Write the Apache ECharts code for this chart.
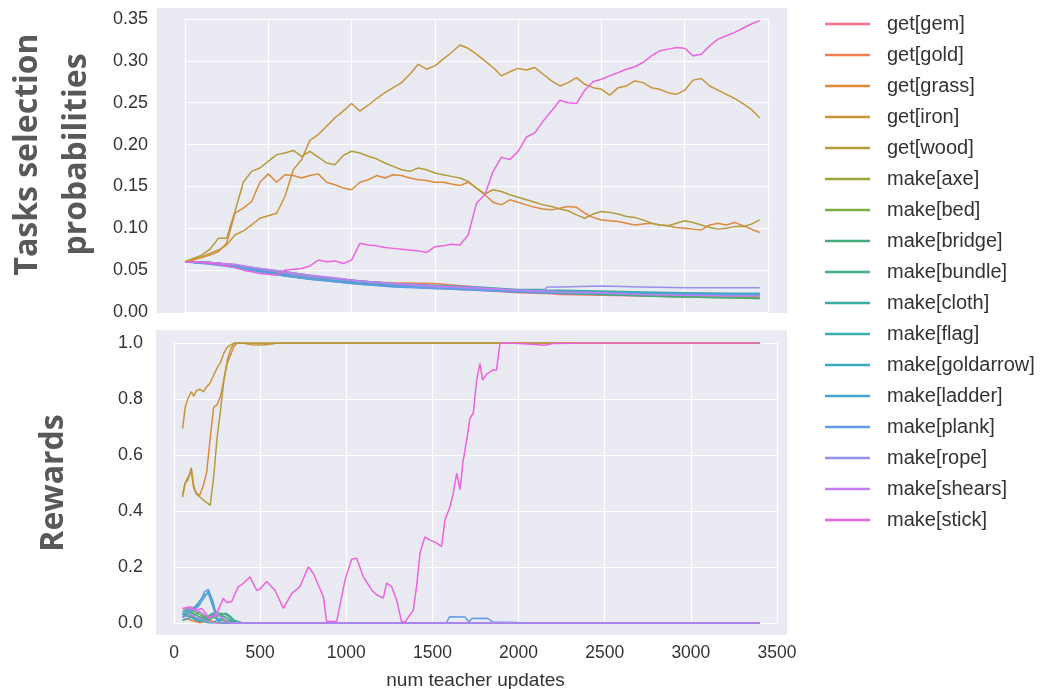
<!DOCTYPE html>
<html>
<head>
<meta charset="utf-8">
<script src="https://cdn.jsdelivr.net/npm/echarts@6/dist/echarts.min.js"></script>
<style>
  html, body { margin: 0; padding: 0; background: #fff; }
  #main { width: 1050px; height: 689px; }
</style>
</head>
<body>
<div id="main"></div>
<script>
// task names, legend order
var taskNames = ['get[gem]', 'get[gold]', 'get[grass]', 'get[iron]', 'get[wood]', 'make[axe]', 'make[bed]',
    'make[bridge]', 'make[bundle]', 'make[cloth]', 'make[flag]', 'make[goldarrow]', 'make[ladder]',
    'make[plank]', 'make[rope]', 'make[shears]', 'make[stick]'];
var taskColors = ['#f77189', '#f27d52', '#dd8a3c', '#c9953a', '#b39c3b', '#9ca53c', '#78ad40',
    '#44ae78', '#3fae92', '#3dada1', '#3fabab', '#3fa8bf', '#47a5d0',
    '#5f9de6', '#9790ee', '#c27ef2', '#ec62df'];

var xTicks = [0, 500, 1000, 1500, 2000, 2500, 3000, 3500];
var probTicks = [0, 0.05, 0.10, 0.15, 0.20, 0.25, 0.30, 0.35];
var rewardTicks = [0, 0.2, 0.4, 0.6, 0.8, 1.0];

// ---- top panel: task selection probabilities ----
var xTop = [0, 50, 100, 150, 200, 250, 300, 350, 400, 450, 500, 550, 600, 650, 700, 750, 800, 850, 900, 950,
    1000, 1050, 1100, 1150, 1200, 1250, 1300, 1350, 1400, 1450, 1500, 1550, 1600, 1650, 1700, 1750, 1800, 1850, 1900, 1950,
    2000, 2050, 2100, 2150, 2200, 2250, 2300, 2350, 2400, 2450, 2500, 2550, 2600, 2650, 2700, 2750, 2800, 2850, 2900, 2950,
    3000, 3050, 3100, 3150, 3200, 3250, 3300, 3350, 3400, 3450];

var probIron = [0.060, 0.063, 0.066, 0.070, 0.074, 0.080, 0.092, 0.097, 0.104, 0.112, 0.115, 0.118, 0.138, 0.170, 0.182, 0.205, 0.212, 0.222, 0.232, 0.240,
    0.249, 0.240, 0.247, 0.255, 0.262, 0.268, 0.274, 0.284, 0.296, 0.290, 0.294, 0.302, 0.310, 0.319, 0.315, 0.308, 0.300, 0.292, 0.282, 0.287,
    0.291, 0.289, 0.292, 0.284, 0.276, 0.270, 0.274, 0.280, 0.272, 0.268, 0.266, 0.259, 0.268, 0.270, 0.276, 0.274, 0.268, 0.266, 0.262, 0.260,
    0.265, 0.277, 0.279, 0.270, 0.265, 0.260, 0.255, 0.249, 0.242, 0.232];
var probWood = [0.060, 0.064, 0.068, 0.075, 0.088, 0.088, 0.120, 0.155, 0.168, 0.172, 0.180, 0.188, 0.190, 0.193, 0.186, 0.192, 0.185, 0.178, 0.176, 0.187,
    0.192, 0.190, 0.186, 0.183, 0.178, 0.174, 0.170, 0.168, 0.172, 0.170, 0.166, 0.164, 0.162, 0.160, 0.156, 0.148, 0.141, 0.146, 0.144, 0.140,
    0.137, 0.134, 0.131, 0.128, 0.126, 0.123, 0.121, 0.116, 0.112, 0.117, 0.120, 0.119, 0.117, 0.114, 0.113, 0.110, 0.106, 0.104, 0.103, 0.106,
    0.109, 0.107, 0.104, 0.101, 0.099, 0.100, 0.102, 0.102, 0.105, 0.110];
var probGrass = [0.060, 0.062, 0.065, 0.068, 0.072, 0.082, 0.118, 0.124, 0.132, 0.155, 0.165, 0.155, 0.164, 0.163, 0.160, 0.163, 0.165, 0.155, 0.152, 0.148,
    0.146, 0.155, 0.158, 0.163, 0.160, 0.164, 0.163, 0.160, 0.158, 0.157, 0.155, 0.155, 0.153, 0.151, 0.155, 0.148, 0.140, 0.131, 0.128, 0.134,
    0.131, 0.128, 0.125, 0.123, 0.122, 0.124, 0.126, 0.125, 0.118, 0.113, 0.110, 0.109, 0.108, 0.106, 0.104, 0.105, 0.106, 0.104, 0.103, 0.101,
    0.100, 0.099, 0.098, 0.104, 0.106, 0.104, 0.107, 0.103, 0.099, 0.095];
var probStick = [0.060, 0.060, 0.059, 0.058, 0.057, 0.055, 0.053, 0.050, 0.048, 0.046, 0.045, 0.044, 0.050, 0.051, 0.052, 0.055, 0.062, 0.060, 0.061, 0.058,
    0.062, 0.082, 0.080, 0.079, 0.077, 0.076, 0.075, 0.074, 0.073, 0.071, 0.078, 0.079, 0.081, 0.080, 0.092, 0.130, 0.140, 0.168, 0.185, 0.182,
    0.192, 0.209, 0.214, 0.228, 0.240, 0.253, 0.250, 0.249, 0.265, 0.275, 0.278, 0.282, 0.286, 0.290, 0.293, 0.298, 0.306, 0.312, 0.314, 0.316,
    0.315, 0.306, 0.308, 0.318, 0.326, 0.330, 0.334, 0.339, 0.344, 0.348];

// the low cluster, sampled coarser
var xTopLow = [0, 150, 300, 450, 600, 750, 900, 1050, 1250, 1500, 1750, 2000, 2150, 2175, 2250, 2500, 2750, 3000, 3250, 3450];
var probGem = [0.060, 0.059, 0.055, 0.049, 0.044, 0.040, 0.037, 0.034, 0.031, 0.028, 0.026, 0.023, 0.022, 0.022, 0.021, 0.020, 0.019, 0.018, 0.018, 0.017];
var probGold = [0.060, 0.059, 0.056, 0.050, 0.045, 0.041, 0.038, 0.036, 0.035, 0.034, 0.030, 0.026, 0.025, 0.025, 0.024, 0.022, 0.021, 0.020, 0.019, 0.018];
var probAxe = [0.060, 0.058, 0.055, 0.050, 0.046, 0.042, 0.039, 0.036, 0.033, 0.030, 0.028, 0.025, 0.024, 0.024, 0.023, 0.021, 0.020, 0.019, 0.018, 0.017];
var probBed = [0.060, 0.059, 0.056, 0.051, 0.047, 0.043, 0.040, 0.037, 0.034, 0.031, 0.028, 0.025, 0.024, 0.024, 0.023, 0.021, 0.020, 0.018, 0.017, 0.016];
var probBridge = [0.060, 0.058, 0.055, 0.051, 0.047, 0.043, 0.039, 0.036, 0.033, 0.030, 0.027, 0.024, 0.023, 0.023, 0.022, 0.021, 0.019, 0.018, 0.017, 0.016];
var probBundle = [0.060, 0.059, 0.056, 0.052, 0.048, 0.044, 0.040, 0.037, 0.034, 0.031, 0.029, 0.026, 0.025, 0.025, 0.024, 0.023, 0.022, 0.021, 0.021, 0.020];
var probCloth = [0.060, 0.058, 0.055, 0.050, 0.046, 0.042, 0.038, 0.035, 0.032, 0.030, 0.028, 0.026, 0.025, 0.025, 0.025, 0.024, 0.023, 0.022, 0.022, 0.021];
var probFlag = [0.060, 0.059, 0.056, 0.051, 0.047, 0.043, 0.040, 0.037, 0.034, 0.032, 0.030, 0.027, 0.027, 0.026, 0.026, 0.025, 0.024, 0.023, 0.022, 0.022];
var probGoldarrow = [0.060, 0.058, 0.054, 0.049, 0.044, 0.040, 0.037, 0.034, 0.031, 0.029, 0.027, 0.025, 0.024, 0.024, 0.024, 0.023, 0.023, 0.022, 0.022, 0.022];
var probLadder = [0.060, 0.058, 0.054, 0.048, 0.043, 0.039, 0.036, 0.033, 0.031, 0.029, 0.027, 0.025, 0.024, 0.024, 0.024, 0.023, 0.022, 0.022, 0.021, 0.021];
var probPlank = [0.060, 0.057, 0.053, 0.048, 0.043, 0.039, 0.036, 0.033, 0.030, 0.028, 0.026, 0.024, 0.023, 0.023, 0.023, 0.022, 0.021, 0.021, 0.020, 0.020];
var probRope = [0.060, 0.059, 0.056, 0.051, 0.046, 0.042, 0.039, 0.036, 0.033, 0.030, 0.028, 0.026, 0.025, 0.030, 0.030, 0.031, 0.030, 0.029, 0.029, 0.029];
var probShears = [0.060, 0.059, 0.057, 0.052, 0.048, 0.044, 0.041, 0.037, 0.034, 0.031, 0.029, 0.026, 0.025, 0.025, 0.024, 0.023, 0.021, 0.020, 0.019, 0.019];

// ---- bottom panel: rewards ----
var xRise = [50, 65, 80, 100, 115, 130, 150, 170, 190, 210, 230, 250, 270, 290, 310, 330, 350, 370, 400, 450,
    500, 550, 600, 700, 1000, 1500, 2000, 2500, 3000, 3400];
var rewIron = [0.695, 0.770, 0.800, 0.826, 0.810, 0.830, 0.835, 0.826, 0.844, 0.857, 0.885, 0.910, 0.930, 0.965, 0.985, 0.993, 1.0, 1.0, 1.0, 0.994,
    0.993, 0.995, 1.0, 1.0, 1.0, 1.0, 1.0, 1.0, 1.0, 1.0];
var rewGrass = [0.460, 0.500, 0.520, 0.540, 0.480, 0.464, 0.457, 0.490, 0.540, 0.660, 0.770, 0.780, 0.810, 0.870, 0.930, 0.960, 0.990, 1.0, 1.0, 1.0,
    1.0, 1.0, 1.0, 1.0, 1.0, 1.0, 1.0, 1.0, 1.0, 1.0];
var rewWood = [0.450, 0.500, 0.510, 0.555, 0.490, 0.460, 0.450, 0.440, 0.430, 0.420, 0.520, 0.660, 0.760, 0.870, 0.940, 0.980, 1.0, 1.0, 1.0, 1.0,
    1.0, 1.0, 1.0, 1.0, 1.0, 1.0, 1.0, 1.0, 1.0, 1.0];

var xStick = [50, 75, 95, 115, 130, 160, 185, 200, 210, 230, 250, 270, 286, 305, 334, 373, 392, 441, 480, 499,
    538, 586, 635, 683, 731, 780, 809, 867, 886, 944, 993, 1031, 1060, 1099, 1147, 1176, 1215, 1234, 1263, 1292,
    1321, 1340, 1389, 1408, 1428, 1437, 1457, 1486, 1524, 1553, 1573, 1602, 1621, 1641, 1660, 1679, 1699, 1718, 1737, 1757,
    1776, 1791, 1815, 1853, 1872, 1892, 1950, 2100, 2150, 2200, 2400, 3000, 3400];
var rewStick = [0.052, 0.055, 0.058, 0.050, 0.046, 0.052, 0.035, 0.017, 0.011, 0.025, 0.040, 0.065, 0.088, 0.073, 0.076, 0.130, 0.136, 0.165, 0.117, 0.121,
    0.148, 0.117, 0.052, 0.105, 0.130, 0.201, 0.177, 0.094, 0.005, 0.005, 0.154, 0.228, 0.231, 0.165, 0.118, 0.101, 0.089, 0.142, 0.130, 0.083,
    0.005, 0.003, 0.046, 0.130, 0.250, 0.270, 0.308, 0.296, 0.286, 0.273, 0.369, 0.415, 0.463, 0.535, 0.476, 0.582, 0.654, 0.731, 0.749, 0.868,
    0.927, 0.868, 0.890, 0.904, 0.904, 0.999, 1.0, 0.995, 0.992, 0.998, 1.0, 1.0, 1.0];

var xLow = [50, 75, 100, 125, 150, 175, 200, 225, 250, 275, 300, 325, 350, 400, 1580, 1600, 1690, 1710, 1730, 1820, 1850, 2000, 3400];
var rewGem = [0.020, 0.030, 0.025, 0.015, 0.010, 0.020, 0.015, 0.005, 0, 0, 0, 0, 0, 0, 0, 0, 0, 0, 0, 0, 0, 0, 0];
var rewGold = [0.010, 0.015, 0.010, 0.005, 0, 0.005, 0.010, 0.005, 0, 0, 0, 0, 0, 0, 0, 0, 0, 0, 0, 0, 0, 0, 0];
var rewAxe = [0.030, 0.040, 0.035, 0.030, 0.020, 0.025, 0.020, 0.030, 0.040, 0.030, 0.020, 0.010, 0, 0, 0, 0, 0, 0, 0, 0, 0, 0, 0];
var rewBed = [0.040, 0.050, 0.045, 0.040, 0.030, 0.020, 0.010, 0.020, 0.015, 0.010, 0.005, 0, 0, 0, 0, 0, 0, 0, 0, 0, 0, 0, 0];
var rewBridge = [0.035, 0.030, 0.025, 0.030, 0.040, 0.025, 0.010, 0.020, 0.030, 0.035, 0.030, 0.020, 0.005, 0, 0, 0, 0, 0, 0, 0, 0, 0, 0];
var rewBundle = [0.020, 0.035, 0.040, 0.030, 0.020, 0.015, 0.025, 0.035, 0.030, 0.025, 0.020, 0.010, 0, 0, 0, 0, 0, 0, 0, 0, 0, 0, 0];
var rewCloth = [0.030, 0.025, 0.020, 0.010, 0.005, 0.010, 0.020, 0.030, 0.025, 0.030, 0.035, 0.025, 0.010, 0, 0, 0, 0, 0, 0, 0, 0, 0, 0];
var rewFlag = [0.010, 0.015, 0.020, 0.015, 0.010, 0.005, 0, 0, 0.010, 0.015, 0.010, 0.005, 0, 0, 0, 0, 0, 0, 0, 0, 0, 0, 0];
var rewGoldarrow = [0.040, 0.045, 0.050, 0.060, 0.080, 0.100, 0.105, 0.060, 0.010, 0, 0, 0, 0, 0, 0, 0, 0, 0, 0, 0, 0, 0, 0];
var rewLadder = [0.030, 0.035, 0.040, 0.055, 0.070, 0.090, 0.115, 0.080, 0.020, 0, 0, 0, 0, 0, 0, 0, 0, 0, 0, 0, 0, 0, 0];
var rewPlank = [0.030, 0.040, 0.045, 0.050, 0.065, 0.110, 0.120, 0.070, 0.010, 0, 0, 0, 0, 0, 0, 0.022, 0.021, 0.004, 0.016, 0.017, 0.004, 0.002, 0];
var rewRope = [0.020, 0.025, 0.030, 0.020, 0.015, 0.010, 0.005, 0, 0, 0, 0, 0, 0, 0, 0, 0, 0, 0, 0, 0, 0, 0, 0];
var rewShears = [0.050, 0.055, 0.050, 0.045, 0.040, 0.030, 0.020, 0.025, 0.030, 0.020, 0.010, 0, 0, 0, 0, 0, 0, 0, 0, 0, 0, 0, 0];

// which x grid + values each task uses, [top, bottom]
var panels = {
    'get[gem]': [[xTopLow, probGem], [xLow, rewGem]],
    'get[gold]': [[xTopLow, probGold], [xLow, rewGold]],
    'get[grass]': [[xTop, probGrass], [xRise, rewGrass]],
    'get[iron]': [[xTop, probIron], [xRise, rewIron]],
    'get[wood]': [[xTop, probWood], [xRise, rewWood]],
    'make[axe]': [[xTopLow, probAxe], [xLow, rewAxe]],
    'make[bed]': [[xTopLow, probBed], [xLow, rewBed]],
    'make[bridge]': [[xTopLow, probBridge], [xLow, rewBridge]],
    'make[bundle]': [[xTopLow, probBundle], [xLow, rewBundle]],
    'make[cloth]': [[xTopLow, probCloth], [xLow, rewCloth]],
    'make[flag]': [[xTopLow, probFlag], [xLow, rewFlag]],
    'make[goldarrow]': [[xTopLow, probGoldarrow], [xLow, rewGoldarrow]],
    'make[ladder]': [[xTopLow, probLadder], [xLow, rewLadder]],
    'make[plank]': [[xTopLow, probPlank], [xLow, rewPlank]],
    'make[rope]': [[xTopLow, probRope], [xLow, rewRope]],
    'make[shears]': [[xTopLow, probShears], [xLow, rewShears]],
    'make[stick]': [[xTop, probStick], [xStick, rewStick]]
};

function pairs(xs, ys) {
    var out = [];
    for (var i = 0; i < xs.length; i++) {
        out.push([xs[i], ys[i]]);
    }
    return out;
}

var labelFont = "'Liberation Sans', Arial, sans-serif";
var titleFont = "'Open Sans', 'Noto Sans', sans-serif";

var series = [];
taskNames.forEach(function (name, i) {
    [0, 1].forEach(function (p) {
        series.push({
            name: name,
            type: 'line',
            xAxisIndex: p,
            yAxisIndex: p,
            showSymbol: false,
            symbol: 'none',
            color: taskColors[i],
            lineStyle: { width: 1.5, color: taskColors[i] },
            data: pairs(panels[name][p][0], panels[name][p][1])
        });
    });
});

var chart = echarts.init(document.getElementById('main'), null, { renderer: 'canvas' });

var option = {
    animation: false,
    backgroundColor: '#fff',
    // seaborn darkgrid background, a bit wider than the tick range
    graphic: [
        { type: 'rect', z: -10, silent: true, shape: { x: 157, y: 8, width: 630, height: 305 }, style: { fill: '#eaeaf2' } },
        { type: 'rect', z: -10, silent: true, shape: { x: 156, y: 330, width: 631, height: 305 }, style: { fill: '#eaeaf2' } }
    ],
    grid: [
        { left: 185, top: 19, width: 583, height: 293, outerBoundsMode: 'none' },
        { left: 174, top: 343, width: 603, height: 280, outerBoundsMode: 'none' }
    ],
    legend: {
        orient: 'vertical',
        left: 820,
        top: 9,
        icon: 'rect',
        itemWidth: 45,
        itemHeight: 2.5,
        itemGap: 11,
        data: taskNames,
        textStyle: { fontSize: 20, color: '#333', fontFamily: labelFont, padding: [0, 0, 0, 12] }
    },
    xAxis: [
        {
            gridIndex: 0, type: 'value', min: xTicks[0], max: xTicks[xTicks.length - 1], interval: 500,
            axisLine: { show: false }, axisTick: { show: false }, axisLabel: { show: false },
            splitLine: { lineStyle: { color: '#fff', width: 1.2 } }
        },
        {
            gridIndex: 1, type: 'value', min: xTicks[0], max: xTicks[xTicks.length - 1], interval: 500,
            axisLine: { show: false }, axisTick: { show: false },
            axisLabel: {
                fontSize: 17.5, color: '#333', fontFamily: labelFont, margin: 21,
                formatter: function (v) { return String(v); }
            },
            splitLine: { lineStyle: { color: '#fff', width: 1.2 } },
            name: 'num teacher updates',
            nameLocation: 'middle',
            nameGap: 48,
            nameTextStyle: { fontSize: 19, color: '#333', fontFamily: labelFont }
        }
    ],
    yAxis: [
        {
            gridIndex: 0, type: 'value', min: probTicks[0], max: probTicks[probTicks.length - 1], interval: 0.05,
            axisLine: { show: false }, axisTick: { show: false },
            axisLabel: {
                fontSize: 18, color: '#333', fontFamily: labelFont, margin: 37,
                formatter: function (v) { return v.toFixed(2); }
            },
            splitLine: { lineStyle: { color: '#fff', width: 1.2 } },
            name: 'Tasks selection\nprobabilities',
            nameLocation: 'middle',
            nameRotate: 90,
            nameGap: 84,
            nameTextStyle: {
                fontSize: 32, fontWeight: 'bold', color: '#595959', fontFamily: titleFont,
                lineHeight: 49, padding: [0, 0, 0, 22]
            }
        },
        {
            gridIndex: 1, type: 'value', min: rewardTicks[0], max: rewardTicks[rewardTicks.length - 1], interval: 0.2,
            axisLine: { show: false }, axisTick: { show: false },
            axisLabel: {
                fontSize: 18, color: '#333', fontFamily: labelFont, margin: 31,
                formatter: function (v) { return v.toFixed(1); }
            },
            splitLine: { lineStyle: { color: '#fff', width: 1.2 } },
            name: 'Rewards',
            nameLocation: 'middle',
            nameRotate: 90,
            nameGap: 104,
            nameTextStyle: { fontSize: 32, fontWeight: 'bold', color: '#595959', fontFamily: titleFont }
        }
    ],
    series: series
};

chart.setOption(option);

window.addEventListener('resize', function () {
    chart.resize();
});
</script>
</body>
</html>
